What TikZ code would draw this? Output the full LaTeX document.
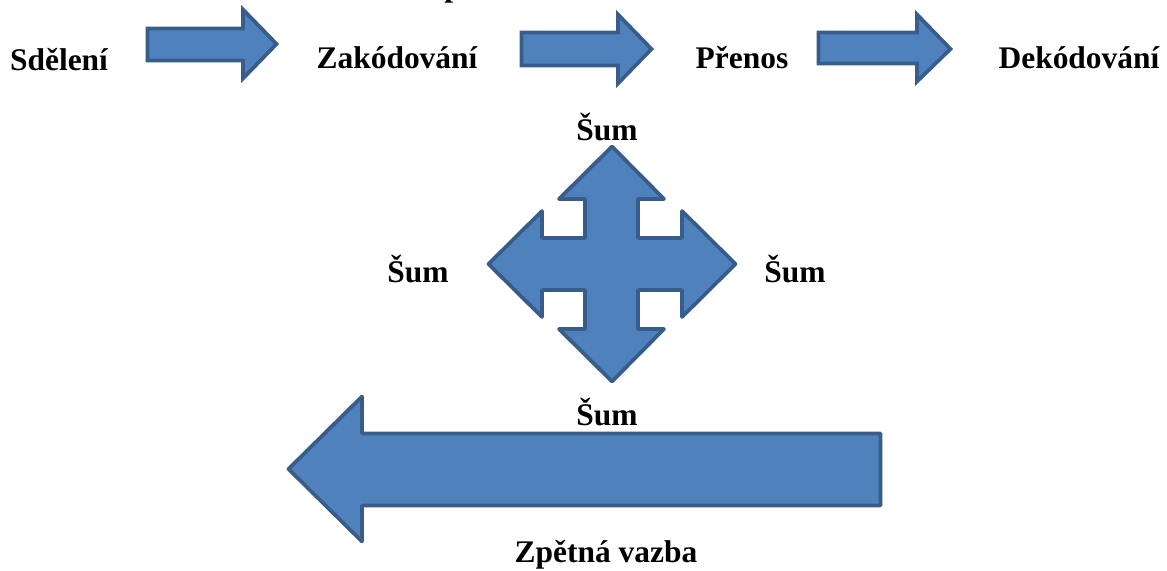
\documentclass[tikz,border=0pt]{standalone}
\usepackage{fontspec}
\setmainfont{Liberation Serif}
\definecolor{arrowfill}{HTML}{4F81BD}
\definecolor{arrowline}{HTML}{385D8A}
\begin{document}
\begin{tikzpicture}[x=0.75pt,y=-0.75pt,
  blockarrow/.style={draw=arrowline,fill=arrowfill,line width=2.8pt,line join=miter},
  roundarrow/.style={blockarrow,line join=round},
  lbl/.style={anchor=base,inner sep=0pt,font=\fontsize{23.6}{28}\selectfont\bfseries}]
\useasboundingbox (0,0) rectangle (1167,571);
% top row labels
\node[lbl] (sd) at (59,70) {Sdělení};
\node[lbl] (za) at (397,68) {Zakódování};
\node[lbl] (pr) at (742,68) {Přenos};
\node[lbl] (de) at (1079,68) {Dekódování};
\node[lbl,anchor=base west] (frag) at (444,-3) {p};
% top arrows
\draw[blockarrow] (147.5,28.5) -- (243,28.5) -- (243,9.5) -- (276.5,44) -- (243,78.5) -- (243,60.5) -- (147.5,60.5) -- cycle;
\draw[blockarrow] (521.5,32.5) -- (618,32.5) -- (618,14.5) -- (651.5,49) -- (618,83.5) -- (618,65.5) -- (521.5,65.5) -- cycle;
\draw[blockarrow] (818.5,32.5) -- (917,32.5) -- (917,14.5) -- (950.5,49) -- (917,81.5) -- (917,63.5) -- (818.5,63.5) -- cycle;
% noise cross
\draw[roundarrow] (612,146.5) -- (664,199) -- (638,199) -- (638,238) -- (682,238) -- (682,211)
  -- (735.5,264) -- (682,317) -- (682,290) -- (638,290) -- (638,329) -- (664,329)
  -- (612,381.5) -- (559,329) -- (585,329) -- (585,290) -- (542,290) -- (542,317)
  -- (488.5,264) -- (542,211) -- (542,238) -- (585,238) -- (585,199) -- (559,199) -- cycle;
\node[lbl] (st) at (607,140) {Šum};
\node[lbl] (sl) at (418,282) {Šum};
\node[lbl] (sr) at (795,282) {Šum};
\node[lbl] (sb) at (607,425) {Šum};
% feedback arrow
\draw[roundarrow] (288.5,469) -- (362,396.5) -- (362,433.5) -- (880.5,433.5) -- (880.5,505.5) -- (362,505.5) -- (362,541.5) -- cycle;
\node[lbl] (zv) at (606,562) {Zpětná vazba};
\end{tikzpicture}
\end{document}
